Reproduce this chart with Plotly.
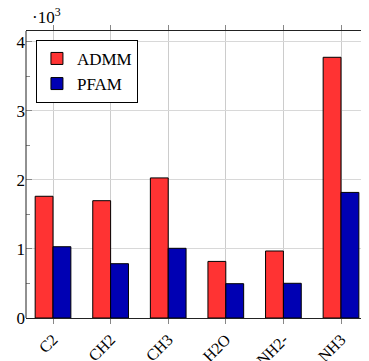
import plotly.graph_objects as go

categories = ["C2", "CH2", "CH3", "H2O", "NH2-", "NH3"]
admm = [1764, 1700, 2030, 820, 971, 3778]
pfam = [1033, 787, 1010, 497, 503, 1820]
ytick_vals = [0, 1000, 2000, 3000, 4000]
ytick_text = ["0", "1", "2", "3", "4"]

FONT = "'Liberation Serif', 'DejaVu Serif', serif"

fig = go.Figure()
fig.add_trace(go.Bar(x=list(range(len(categories))), y=admm, name="ADMM",
                     marker=dict(color="#FF3333", line=dict(color="black", width=1))))
fig.add_trace(go.Bar(x=list(range(len(categories))), y=pfam, name="PFAM",
                     marker=dict(color="#0000B3", line=dict(color="black", width=1))))

fig.update_layout(
    width=361, height=353,
    margin=dict(l=18, r=0, t=23, b=43, autoexpand=False),
    paper_bgcolor="white", plot_bgcolor="white",
    barmode="group", bargap=0.38, bargroupgap=0,
    font=dict(family=FONT, size=16, color="black"),
    showlegend=True,
    legend=dict(x=0.029, y=0.969, xanchor="left", yanchor="top",
                bgcolor="white", bordercolor="black", borderwidth=1,
                font=dict(family=FONT, size=17), tracegroupgap=0,
                itemwidth=30),
)

fig.update_xaxes(
    range=[-0.469, 5.486], automargin=False,
    tickmode="array", tickvals=list(range(len(categories))), ticktext=categories,
    tickangle=-45,
    showgrid=True, gridcolor="#cccccc", gridwidth=1,
    showline=True, linecolor="#222222", linewidth=1, mirror="ticks",
    ticks="outside", ticklen=5, tickcolor="#888888",
    zeroline=False,
    tickfont=dict(family=FONT, size=16),
)

fig.update_yaxes(
    range=[0, 4159], automargin=False,
    tickmode="array", tickvals=ytick_vals, ticktext=ytick_text,
    showgrid=True, gridcolor="#d8d8d8", gridwidth=1,
    showline=False, mirror="ticks",
    ticks="inside", ticklen=6, tickcolor="#888888",
    minor=dict(tickmode="array", tickvals=[500, 1500, 2500, 3500],
               ticks="inside", ticklen=4, tickcolor="#888888", showgrid=False),
    zeroline=False,
    tickfont=dict(family=FONT, size=17),
)

# left axis line
fig.add_shape(type="line", xref="paper", yref="paper", x0=0, x1=0, y0=0, y1=1,
              line=dict(color="#222222", width=1))

fig.add_annotation(text="·10<sup>3</sup>", xref="paper", yref="paper",
                   x=0.012, y=1, xanchor="left", yanchor="bottom", yshift=2,
                   showarrow=False, font=dict(family=FONT, size=17))

fig.write_html("out.html")
